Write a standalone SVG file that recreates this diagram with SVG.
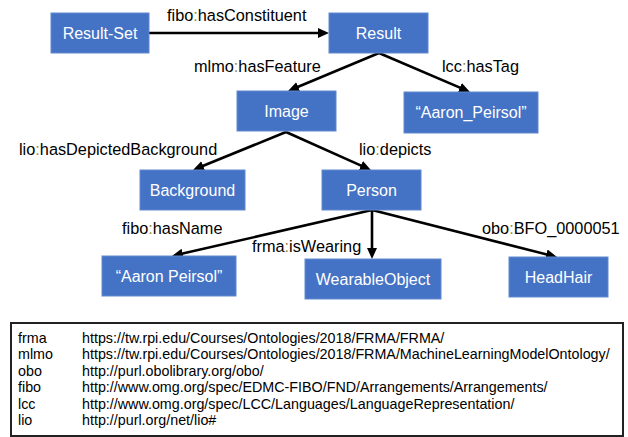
<svg xmlns="http://www.w3.org/2000/svg" width="628" height="437" viewBox="0 0 628 437">
<style>
.node rect{fill:#4472C4;stroke:#6389CF;stroke-width:1}
.node text{fill:#fff;font-family:"Liberation Sans",Arial,sans-serif;font-size:16px;text-anchor:middle}
.lbl{fill:#000;font-family:"Liberation Sans",Arial,sans-serif;font-size:16.3px}
.c{fill:#9A8C3C}
.edge{stroke:#000;stroke-width:2.6;fill:none;marker-end:url(#ah)}
.leg{fill:#000;font-family:"Liberation Sans",Arial,sans-serif;font-size:14.3px}
</style>
<defs>
<marker id="ah" markerUnits="userSpaceOnUse" markerWidth="11" markerHeight="10" refX="4.5" refY="5" orient="auto" viewBox="0 0 11 10">
<path d="M0,0 L11,5 L0,10 z" fill="#000"/>
</marker>
</defs>
<rect width="628" height="437" fill="#fff"/>
<g id="connectors">
<line class="edge" x1="149" y1="33" x2="322.5" y2="33"/>
<line class="edge" x1="379" y1="53" x2="294" y2="88.5"/>
<line class="edge" x1="379" y1="53" x2="464" y2="89.4"/>
<line class="edge" x1="286" y1="132" x2="199" y2="167.5"/>
<line class="edge" x1="286" y1="132" x2="365" y2="167.4"/>
<line class="edge" x1="372" y1="210" x2="178.3" y2="254.6"/>
<line class="edge" x1="372" y1="210" x2="372" y2="252.5"/>
<line class="edge" x1="372" y1="210" x2="550.7" y2="255.4"/>
</g>
<g id="edge-labels">
<text class="lbl" x="167" y="21">fibo<tspan class="c">:</tspan>hasConstituent</text>
<text class="lbl" x="194" y="72">mlmo<tspan class="c">:</tspan>hasFeature</text>
<text class="lbl" x="442" y="72">lcc<tspan class="c">:</tspan>hasTag</text>
<text class="lbl" x="19" y="155">lio<tspan class="c">:</tspan>hasDepictedBackground</text>
<text class="lbl" x="359" y="155">lio<tspan class="c">:</tspan>depicts</text>
<text class="lbl" x="122" y="234">fibo<tspan class="c">:</tspan>hasName</text>
<text class="lbl" x="252" y="252">frma<tspan class="c">:</tspan>isWearing</text>
<text class="lbl" x="482" y="234">obo<tspan class="c">:</tspan>BFO_0000051</text>
</g>
<g id="resultset" class="node"><rect x="51" y="13" width="98" height="40"/><text x="100" y="39">Result-Set</text></g>
<g id="result" class="node"><rect x="329" y="13" width="99" height="40"/><text x="378.5" y="39">Result</text></g>
<g id="image" class="node"><rect x="237" y="91" width="99" height="40"/><text x="286.5" y="117">Image</text></g>
<g id="tag" class="node"><rect x="404" y="92" width="134" height="41"/><text x="471" y="118">“Aaron_Peirsol”</text></g>
<g id="background" class="node"><rect x="140" y="170" width="105" height="40"/><text x="192.5" y="196">Background</text></g>
<g id="person" class="node"><rect x="322" y="170" width="99" height="40"/><text x="371.5" y="196">Person</text></g>
<g id="name" class="node"><rect x="102" y="256" width="134" height="40"/><text x="169" y="282">“Aaron Peirsol”</text></g>
<g id="wearable" class="node"><rect x="305" y="259" width="136" height="40"/><text x="373" y="285">WearableObject</text></g>
<g id="headhair" class="node"><rect x="509" y="257" width="99" height="40"/><text x="558.5" y="283">HeadHair</text></g>
<g id="legend">
<rect x="11" y="323" width="612" height="113" fill="none" stroke="#222" stroke-width="2"/>
<text class="leg" x="18" y="343">frma</text><text class="leg" x="82" y="343">https://tw.rpi.edu/Courses/Ontologies/2018/FRMA/FRMA/</text>
<text class="leg" x="18" y="359">mlmo</text><text class="leg" x="82" y="359">https://tw.rpi.edu/Courses/Ontologies/2018/FRMA/MachineLearningModelOntology/</text>
<text class="leg" x="18" y="376">obo</text><text class="leg" x="82" y="376">http://purl.obolibrary.org/obo/</text>
<text class="leg" x="18" y="392">fibo</text><text class="leg" x="82" y="392">http://www.omg.org/spec/EDMC-FIBO/FND/Arrangements/Arrangements/</text>
<text class="leg" x="18" y="409">lcc</text><text class="leg" x="82" y="409">http://www.omg.org/spec/LCC/Languages/LanguageRepresentation/</text>
<text class="leg" x="18" y="425">lio</text><text class="leg" x="82" y="425">http://purl.org/net/lio#</text>
</g>
</svg>
